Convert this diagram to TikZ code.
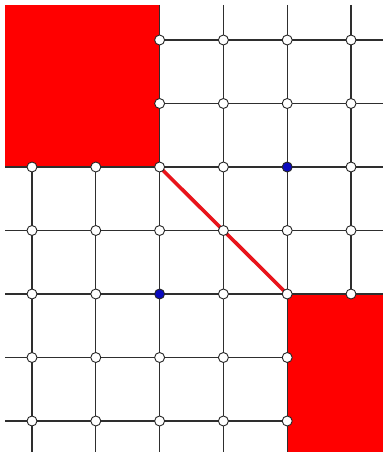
\documentclass[tikz,border=0pt]{standalone}
\usetikzlibrary{calc}
\definecolor{cBlk}{HTML}{FF0000}
\definecolor{cCut}{HTML}{E8141B}
\definecolor{cGrid}{HTML}{2E2E2E}
\definecolor{cBlue}{HTML}{0A0ABE}
\tikzset{
  gline/.style={draw=cGrid, line width=1.3pt},
  blk/.style={fill=cBlk},
  cut/.style={draw=cCut, line width=3.6pt},
  gnode/.style={circle, draw=black!85, fill=white, line width=0.9pt, inner sep=0pt,
                minimum size=10pt},
  bnode/.style={gnode, fill=cBlue},
}

\begin{document}
\begin{tikzpicture}[x=1pt,y=-1pt]
\useasboundingbox (0,0) rectangle (383,452);
% ---- lattice points
\foreach \i in {0,...,5}
  \foreach \j in {0,...,6}
    \coordinate (p\i\j) at ({32+63.8*\i},{40+63.5*\j});
\coordinate (tl) at (5,5);
\coordinate (br) at (383,452);
% ---- blocked squares
\fill[blk] (tl) rectangle (p22);
\fill[blk] (p44) rectangle (br);
% ---- grid lines, cut off by the squares
\foreach \i in {0,1} \draw[gline] (p\i2) -- (p\i2 |- br);
\foreach \i in {2,3,4} \draw[gline] (p\i0 |- tl) -- (p\i0 |- br);
\draw[gline] (p50 |- tl) -- (p54);
\foreach \j in {0,1} \draw[gline] (p2\j) -- (p2\j -| br);
\foreach \j in {2,3,4} \draw[gline] (p0\j -| tl) -- (p0\j -| br);
\foreach \j in {5,6} \draw[gline] (p0\j -| tl) -- (p4\j);
% ---- diagonal path
\draw[cut] (p22) -- (p44);
% ---- vertices
\foreach \j/\a/\b in {0/2/5, 1/2/5, 2/0/3, 2/5/5, 3/0/5, 4/0/1, 4/3/5, 5/0/4, 6/0/4}
  \foreach \i in {\a,...,\b}
    \node[gnode] (v\i\j) at (p\i\j) {};
\foreach \i/\j in {4/2, 2/4} \node[bnode] (v\i\j) at (p\i\j) {};
\end{tikzpicture}
\end{document}
